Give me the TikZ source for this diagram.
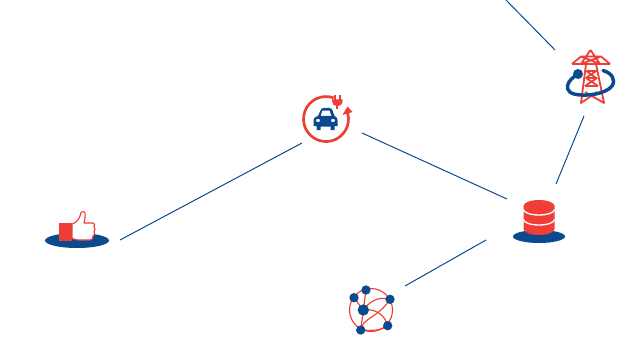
\documentclass[tikz,border=0pt]{standalone}
\usetikzlibrary{arrows.meta}
\definecolor{rd}{HTML}{EE3E36}
\definecolor{bl}{HTML}{0B4A8F}
\tikzset{
  link/.style={draw=bl,line width=0.75pt},
  redline/.style={draw=rd,line width=1.35pt},
  redthin/.style={draw=rd,line width=0.85pt},
  netnode/.style={circle,fill=bl,inner sep=0pt,minimum size=7pt}
}
\begin{document}
\begin{tikzpicture}[x=0.75pt,y=-0.75pt]
\useasboundingbox (0,0) rectangle (630,342);
% connector ends
\coordinate (topA) at (506,0); \coordinate (topB) at (555,50);
\coordinate (towerS) at (584,116); \coordinate (dbN) at (556,184);
\coordinate (carE) at (362,133); \coordinate (dbW) at (507,199);
\coordinate (carW) at (302,143); \coordinate (thumbE) at (120,240);
\coordinate (dbS) at (486,240); \coordinate (netN) at (405,286);
\draw[link] (topA) -- (topB);
\draw[link] (towerS) -- (dbN);
\draw[link] (carE) -- (dbW);
\draw[link] (carW) -- (thumbE);
\draw[link] (dbS) -- (netN);
% car icon
\draw[draw=rd,line width=2pt] (333.7,97.9) arc (-70:-385:22.5);
\fill[rd] (347.5,106.5) -- (342.5,115) -- (352.5,112) -- cycle;
\fill[rd] (332,99.5) -- (342.5,99.5) -- (342.5,101) .. controls (342.5,105) and (339.5,106) .. (338,106) -- (336.5,106) .. controls (334,106) and (332,104) .. (332,101) -- cycle;
\fill[rd] (334,95) rectangle (335.7,100);
\fill[rd] (338.8,95) rectangle (340.5,100);
\fill[rd] (336.3,105) rectangle (338.2,109);
\fill[bl,even odd rule] (318,116) -- (320.5,110.5) .. controls (321,109) and (322,108) .. (323.5,108) -- (329.5,108) .. controls (331,108) and (332,109) .. (332.5,110.5) -- (334.5,116) .. controls (336.5,117) and (337.5,118) .. (337.5,120) -- (337.5,126) -- (334.5,126) -- (334.5,130) -- (330.5,130) -- (330.5,126.5) -- (320.5,126.5) -- (320.5,130) -- (316.5,130) -- (316.5,126) -- (313.5,126) -- (313.5,120) .. controls (313.5,118) and (315,117) .. (318,116) -- cycle
 (320.5,116) -- (331.5,116) -- (329.7,110.7) -- (322.3,110.7) -- cycle
 (318,120.5) ellipse [x radius=2,y radius=1.8] (333,120.5) ellipse [x radius=2,y radius=1.8];
% tower
\draw[redline,line join=round]
 (590.5,50) -- (581,64) (590.5,50) -- (600,64)
 (572,64) -- (610,64) (572,64) -- (581,56.5) -- (601,56.5) -- (610,64)
 (581,56.5) -- (600,64) (601,56.5) -- (581,64)
 (586,64) -- (581,103) -- (597,92) (596,64) -- (604,103) -- (585,92)
 (586.5,71) -- (596,71) (586.5,71) -- (596,78) (596,71) -- (586,78) (586,78) -- (597,78) (586,78) -- (598,86) (597,78) -- (585,86) (585,86) -- (598,86);
\draw[draw=bl,line width=2.6pt,line cap=round] (603,70.5) .. controls (612,73) and (616,80) .. (612,86) .. controls (606,94) and (585,97) .. (574,94) .. controls (567,92) and (566,87) .. (569,82) .. controls (570.5,80) and (572,78) .. (575,76);
\fill[bl] (578,74) circle (5);
% database
\fill[bl] (539,236.5) ellipse [x radius=26,y radius=6.5];
\fill[rd] (523.5,206) -- (523.5,229) arc (180:0:15.5 and 6) -- (554.5,206) -- cycle;
\fill[rd] (539,206) ellipse [x radius=15.5,y radius=6];
\draw[white,line width=1pt] (523.5,209.5) arc (180:0:15.5 and 5.5);
\draw[white,line width=1pt] (523.5,219.5) arc (180:0:15.5 and 5.5);
% network
\draw[redthin] (371,310) circle (21.5);
\draw[redthin] (354,297.7) -- (363.3,310) (366,290) -- (363.3,310) -- (360.7,330);
\draw[redthin] (363.3,310) .. controls (372,298) and (382,297) .. (390,299.3);
\draw[redthin] (363.3,310) .. controls (375,308) and (385,315) .. (387.7,325.7);
\draw[redthin] (360.7,330) .. controls (362,318) and (378,318) .. (390,299.3);
\draw[redthin] (360.7,330) .. controls (375,331) and (382,330) .. (387.7,325.7);
\node[netnode] (n1) at (366,290) {};
\node[netnode] (n2) at (354,297.7) {};
\node[netnode] (n3) at (390,299.3) {};
\node[netnode,minimum size=8.5pt] (n4) at (363.3,310) {};
\node[netnode] (n5) at (360.7,330) {};
\node[netnode] (n6) at (387.7,325.7) {};
% thumb
\fill[bl] (77,240.5) ellipse [x radius=32,y radius=7.5];
\fill[rd] (59,223) rectangle (72,240.5);
\draw[redthin,fill=white,line join=round] (72,224) .. controls (76,223) and (79,219) .. (80,216) .. controls (80.5,213) and (81,211.5) .. (83,211.5) .. controls (85.5,211.5) and (85.5,215) .. (85,218) -- (84,223) -- (93,223) .. controls (95,223) and (95,226) .. (94,227) .. controls (96,228) and (95,231) .. (94,231.5) .. controls (95.5,233) and (94.5,235.5) .. (93,236) .. controls (93.5,238) and (92.5,240) .. (90,240) -- (78,240) .. controls (75,240) and (74,238.5) .. (72,238.5) -- cycle;
\end{tikzpicture}
\end{document}
